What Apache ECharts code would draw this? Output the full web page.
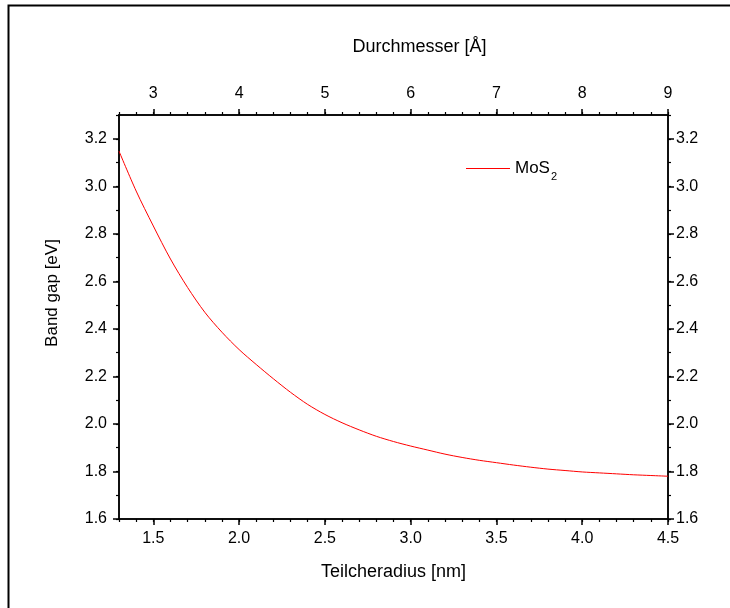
<!DOCTYPE html>
<html>
<head>
<meta charset="utf-8">
<script src="https://cdn.jsdelivr.net/npm/echarts@6/dist/echarts.min.js"></script>
<style>
  html, body { margin: 0; padding: 0; background: #fff; }
  #main { width: 730px; height: 608px; }
</style>
</head>
<body>
<div id="main"></div>
<script>
// Teilcheradius [nm]
const radius = [1.3, 1.4, 1.5, 1.6, 1.7, 1.8, 1.9, 2.0, 2.1, 2.2, 2.3, 2.4, 2.5, 2.6, 2.7, 2.8, 2.9,
  3.0, 3.1, 3.2, 3.3, 3.4, 3.5, 3.6, 3.7, 3.8, 3.9, 4.0, 4.1, 4.2, 4.3, 4.4, 4.5];
// Band gap [eV], MoS2
const bandGap = [3.148, 2.980, 2.833, 2.694, 2.574, 2.470, 2.386, 2.313, 2.250, 2.190, 2.133, 2.082, 2.040,
  2.005, 1.975, 1.948, 1.926, 1.907, 1.890, 1.873, 1.859, 1.847, 1.837, 1.827, 1.818, 1.810, 1.804,
  1.798, 1.794, 1.790, 1.786, 1.783, 1.780];

const radiusTicks = [1.5, 2.0, 2.5, 3.0, 3.5, 4.0, 4.5];
const diameterTicks = [3, 4, 5, 6, 7, 8, 9];
const gapTicks = [1.6, 1.8, 2.0, 2.2, 2.4, 2.6, 2.8, 3.0, 3.2];

const FONT = "'Liberation Sans', Arial, sans-serif";
const black = "#000";

const chart = echarts.init(document.getElementById("main"), null, { renderer: "canvas" });

// minor ticks axis (no labels)
function minorAxis(position, min, max, interval) {
  return {
    type: "value", position: position, min: min, max: max, interval: interval, offset: 0,
    axisLine: { show: true, onZero: false, lineStyle: { color: black, width: 1.5 } },
    axisTick: { show: true, inside: false, length: 3, lineStyle: { color: black, width: 1.2 } },
    axisLabel: { show: false },
    splitLine: { show: false }
  };
}

// major ticks axis with labels
function majorAxis(position, min, max, ticks, digits, margin) {
  return {
    type: "value", position: position, min: min, max: max, offset: 0,
    axisLine: { show: true, onZero: false, lineStyle: { color: black, width: 1.5 } },
    axisTick: { show: true, inside: false, length: 6, customValues: ticks, lineStyle: { color: black, width: 1.5 } },
    axisLabel: {
      show: true, customValues: ticks, margin: margin,
      color: black, fontSize: 16, fontFamily: FONT,
      formatter: (v) => v.toFixed(digits)
    },
    splitLine: { show: false },
    nameTextStyle: { color: black, fontSize: 18, fontFamily: FONT }
  };
}

const bottomMajor = majorAxis("bottom", 1.3, 4.5, radiusTicks, 1, 12);
bottomMajor.name = "Teilcheradius [nm]";
bottomMajor.nameLocation = "middle";
bottomMajor.nameGap = 44;

const topMajor = majorAxis("top", 2.6, 9, diameterTicks, 0, 13);
topMajor.name = "Durchmesser [Å]";
topMajor.nameLocation = "middle";
topMajor.nameGap = 59;
topMajor.nameTextStyle.padding = [0, 0, 0, 52];

const leftMajor = majorAxis("left", 1.6, 3.3, gapTicks, 1, 12);
leftMajor.name = "Band gap [eV]";
leftMajor.nameLocation = "middle";
leftMajor.nameGap = 58;
leftMajor.nameTextStyle.fontSize = 17;
leftMajor.nameTextStyle.padding = [0, 0, 0, 48];

const rightMajor = majorAxis("right", 1.6, 3.3, gapTicks, 1, 8);

const option = {
  backgroundColor: "#fff",
  animation: false,
  grid: { left: 119, right: 62, top: 115, bottom: 89, containLabel: false },
  legend: {
    left: 466, top: 160,
    padding: 0,
    icon: "rect",
    itemWidth: 44, itemHeight: 1,
    data: ["MoS2"],
    formatter: () => "{a|MoS}{b|2}",
    textStyle: {
      color: black, fontFamily: FONT,
      rich: {
        a: { fontSize: 17, fontFamily: FONT, color: black },
        b: { fontSize: 11, fontFamily: FONT, color: black, padding: [17, 0, 0, 1] }
      }
    }
  },
  xAxis: [
    minorAxis("bottom", 1.3, 4.5, 0.1),
    bottomMajor,
    minorAxis("top", 2.6, 9, 0.2),
    topMajor
  ],
  yAxis: [
    minorAxis("left", 1.6, 3.3, 0.1),
    leftMajor,
    minorAxis("right", 1.6, 3.3, 0.1),
    rightMajor
  ],
  graphic: [
    {
      type: "rect", silent: true,
      shape: { x: 8.5, y: 5.5, width: 760, height: 700 },
      style: { fill: "none", stroke: black, lineWidth: 2 }
    }
  ],
  series: [
    {
      name: "MoS2",
      type: "line",
      xAxisIndex: 0, yAxisIndex: 0,
      data: radius.map((r, i) => [r, bandGap[i]]),
      smooth: 0.3,
      symbol: "none",
      lineStyle: { color: "#ff0000", width: 1 },
      itemStyle: { color: "#ff0000" }
    }
  ]
};

chart.setOption(option);
</script>
</body>
</html>
